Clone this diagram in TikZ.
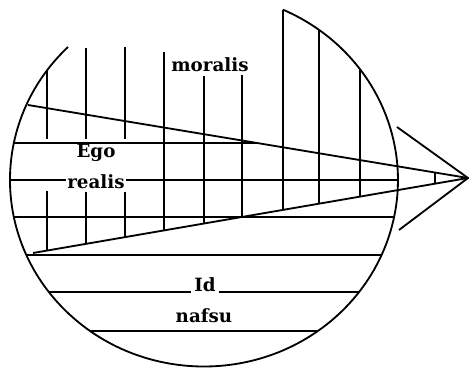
\documentclass[tikz,border=0pt]{standalone}
\usepackage{fontspec}
\setmainfont{DejaVu Serif}

\begin{document}
\begin{tikzpicture}[x=0.25mm, y=0.25mm, line width=1.3pt,
    every node/.style={font=\bfseries\fontsize{13}{15}\selectfont}]
  \useasboundingbox (0,0) rectangle (469,370);

  % outline of the psyche, open at the top
  \draw (68,323) arc[start angle=134.5, end angle=426, x radius=48.5mm, y radius=46.625mm];

  % horizontal layers
  \begin{scope}
    \clip (204,190) ellipse [x radius=48.5mm, y radius=46.625mm];
    \draw (0,227) -- (257,227);
    \draw (0,190) -- (410,190);
    \draw (0,153) -- (410,153);
    \draw (0,115) -- (410,115);
    \draw (0,78) -- (410,78);
    \draw (0,39) -- (410,39);
  \end{scope}

  % wedge and arrow head
  \coordinate (apex) at (468,192);
  \coordinate (upL) at (28,265);
  \coordinate (loL) at (33,117);
  \coordinate (tipU) at (397,243);
  \coordinate (tipD) at (399,140);
  \draw (upL) -- (apex);
  \draw (loL) -- (apex);
  \draw (tipU) -- (apex) -- (tipD);
  \draw (435,186.3) -- (435,197.5);

  % vertical lines
  \draw (47,299.6) -- (47,231);
  \draw (47,179) -- (47,119.4);
  \draw (86,322) -- (86,231);
  \draw (86,178) -- (86,126.1);
  \draw (125,323) -- (125,231);
  \draw (125,178) -- (125,132.9);
  \draw (164,318) -- (164,139.6);
  \draw (204,294) -- (204,146.5);
  \draw (242,295) -- (242,153);
  \draw (283,360.3) -- (283,160.1);
  \draw (319,340.2) -- (319,166.3);
  \draw (360,300.9) -- (360,173.4);

  % labels
  \node (moralis) at (210,305) {moralis};
  \node (ego) at (96,217) {Ego};
  \node[fill=white, inner sep=1pt] (realis) at (96,188) {realis};
  \node[fill=white, inner sep=2.5pt, anchor=base] (id) at (205,78) {Id};
  \node (nafsu) at (204,54) {nafsu};
\end{tikzpicture}
\end{document}
